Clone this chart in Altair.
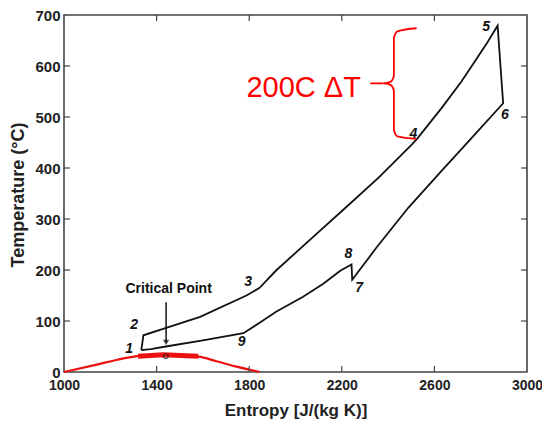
import altair as alt
import pandas as pd

# ---- data ----
cycle_s = [1334, 1375, 1440, 1600, 1775, 1850, 1916, 2031, 2120, 2195, 2242, 2245, 2350, 2487, 2630, 2773, 2897,
           2873, 2830, 2773, 2716, 2630, 2525, 2502, 2359, 2216, 2074, 1916, 1845, 1788, 1588, 1438, 1343, 1334]
cycle_t = [43, 45, 50, 62, 76, 98, 118, 147, 173, 199, 211, 181, 244, 322, 394, 465, 527,
           679, 647, 608, 569, 517, 457, 446, 381, 322, 264, 199, 165, 150, 108, 86, 72, 43]

dome_s = [1000, 1146, 1231, 1317, 1430, 1581, 1659, 1750, 1845]
dome_t = [0, 15, 24, 31, 34, 30, 21, 10, 0]
band_s = [1320, 1430, 1580]
band_t = [31, 34, 31]

label_txt = ["1", "2", "3", "4", "5", "6", "7", "8", "9"]
label_s = [1281, 1303, 1795, 2509, 2823, 2905, 2275, 2228, 1767]
label_t = [46, 92, 176, 467, 677, 504, 164, 232, 59]

crit_text = "Critical Point"
crit_s = 1452
crit_t = 162
arrow_s = [1441, 1441]
arrow_t = [137, 58]
crit_pt_s = 1440
crit_pt_t = 31

brace_s = [2523, 2440, 2425, 2425, 2410, 2380, 2410, 2425, 2425, 2440, 2523]
brace_t = [674, 668, 655, 580, 569, 566, 563, 552, 475, 462, 457]
stub_s = [2323, 2380]
stub_t = [566, 566]
anno_text = "200C ΔT"
anno_s = 1788
anno_t = 540

x_ticks = [1000, 1400, 1800, 2200, 2600, 3000]
y_ticks = [0, 100, 200, 300, 400, 500, 600, 700]
x_inner = [1400, 1800, 2200, 2600]
y_inner = [100, 200, 300, 400, 500, 600]

W, H = 463, 357
xs = alt.Scale(domain=[1000, 3000], nice=False, zero=False)
ys = alt.Scale(domain=[0, 700], nice=False, zero=False)
FONT = "Liberation Sans"

x_axis = alt.Axis(values=x_ticks, format="d", title="Entropy [J/(kg K)]", tickSize=0, domain=False,
                  grid=False, labelFont=FONT, labelFontSize=14, labelFontWeight="bold",
                  labelColor="#222", labelPadding=6, titleFont=FONT, titleFontSize=17,
                  titleFontWeight="bold", titleColor="#222", titleX=W / 2, titleY=38,
                  titleBaseline="middle", labelFlush=False)
y_axis = alt.Axis(values=y_ticks, format="d", title="Temperature (°C)", tickSize=0, domain=False,
                  grid=False, labelFont=FONT, labelFontSize=15, labelFontWeight="bold",
                  labelColor="#222", labelPadding=4, titleFont=FONT, titleFontSize=18,
                  titleFontWeight="bold", titleColor="#222", titleX=-46, titleY=H / 2 + 1,
                  titleAngle=-90, titleAlign="center", titleBaseline="middle",
                  labelFlush=False)

cycle_df = pd.DataFrame({"s": cycle_s, "t": cycle_t, "o": list(range(len(cycle_s)))})
dome_df = pd.DataFrame({"s": dome_s, "t": dome_t})
band_df = pd.DataFrame({"s": band_s, "t": band_t})
lab_df = pd.DataFrame({"s": label_s, "t": label_t, "txt": label_txt})
brace_df = pd.DataFrame({"s": brace_s, "t": brace_t, "o": list(range(len(brace_s)))})
stub_df = pd.DataFrame({"s": stub_s, "t": stub_t})
arrow_df = pd.DataFrame({"s": arrow_s, "t": arrow_t})


def X():
    return alt.X("s:Q", scale=xs, axis=x_axis)


def Y():
    return alt.Y("t:Q", scale=ys, axis=y_axis)


cycle = alt.Chart(cycle_df).mark_line(color="#111", strokeWidth=1.8).encode(x=X(), y=Y(), order="o:Q")

dome = alt.Chart(dome_df).mark_line(color="#ee1111", strokeWidth=2.2, interpolate="monotone").encode(x=X(), y=Y())
band = alt.Chart(band_df).mark_line(color="#ee1111", strokeWidth=5).encode(x=X(), y=Y())

labels = alt.Chart(lab_df).mark_text(font=FONT, fontSize=14, fontStyle="italic", fontWeight="bold",
                                     color="#111").encode(x=X(), y=Y(), text="txt:N")

crit = alt.Chart(pd.DataFrame({"s": [crit_s], "t": [crit_t], "txt": [crit_text]})).mark_text(
    font=FONT, fontSize=14, fontWeight="bold", color="#111").encode(x=X(), y=Y(), text="txt:N")
arrow = alt.Chart(arrow_df).mark_line(color="#111", strokeWidth=1.5).encode(x=X(), y=Y())
head = alt.Chart(pd.DataFrame({"s": [arrow_s[1]], "t": [arrow_t[1]]})).mark_point(
    shape="triangle-down", filled=True, color="#111", size=40).encode(x=X(), y=Y())
cpt = alt.Chart(pd.DataFrame({"s": [crit_pt_s], "t": [crit_pt_t]})).mark_point(
    shape="circle", filled=False, color="#111", size=22, strokeWidth=1.2).encode(x=X(), y=Y())

brace = alt.Chart(brace_df).mark_line(color="#ff0000", strokeWidth=1.8, interpolate="monotone").encode(
    x=X(), y=Y(), order="o:Q")
stub = alt.Chart(stub_df).mark_line(color="#ff0000", strokeWidth=1.8).encode(x=X(), y=Y())
anno = alt.Chart(pd.DataFrame({"s": [anno_s], "t": [anno_t], "txt": [anno_text]})).mark_text(
    font=FONT, fontSize=29, color="#ff0000", align="left", baseline="alphabetic").encode(
    x=X(), y=Y(), text="txt:N")

tk = dict(color="#444", strokeWidth=1.2)
xt_df = pd.DataFrame({"s": x_inner})
yt_df = pd.DataFrame({"t": y_inner})
tick_b = alt.Chart(xt_df).mark_rule(**tk).encode(x=X(), y=alt.value(H), y2=alt.value(H - 6))
tick_t = alt.Chart(xt_df).mark_rule(**tk).encode(x=X(), y=alt.value(0), y2=alt.value(6))
tick_l = alt.Chart(yt_df).mark_rule(**tk).encode(y=Y(), x=alt.value(0), x2=alt.value(6))
tick_r = alt.Chart(yt_df).mark_rule(**tk).encode(y=Y(), x=alt.value(W), x2=alt.value(W - 6))

chart = alt.layer(
    cycle, dome, band, arrow, head, cpt, labels, crit, brace, stub, anno,
    tick_b, tick_t, tick_l, tick_r
).properties(
    width=W, height=H,
    autosize=alt.AutoSizeParams(type="none"),
    padding={"left": 56, "top": 7, "right": 15, "bottom": 48},
    background="white",
).configure_view(stroke="#444", strokeWidth=1.6)

chart.save("out.html", embed_options={"renderer": "svg", "actions": False})
